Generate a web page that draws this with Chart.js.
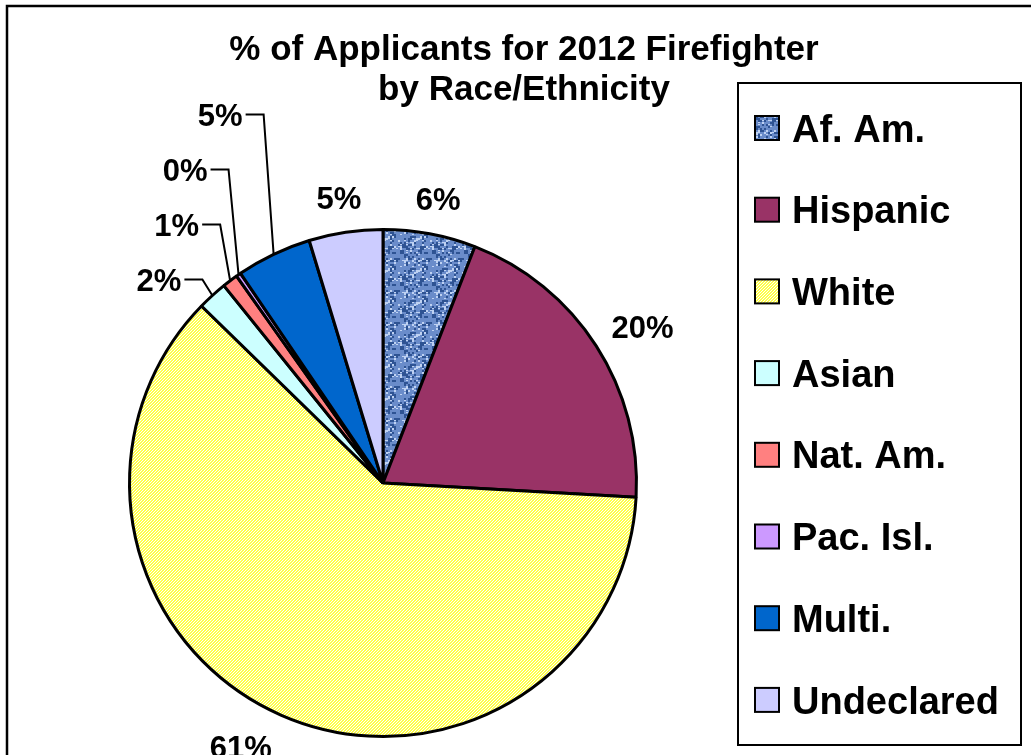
<!DOCTYPE html>
<html>
<head>
<meta charset="utf-8">
<title>% of Applicants for 2012 Firefighter by Race/Ethnicity</title>
<script src="https://cdn.jsdelivr.net/npm/chart.js@4.4.1/dist/chart.umd.min.js"></script>
<style>
  html, body { margin: 0; padding: 0; background: #fff; }
  #chart { display: block; }
</style>
</head>
<body>
<canvas id="chart" width="1031" height="755"></canvas>
<script>
const groups = ["Af. Am.", "Hispanic", "White", "Asian", "Nat. Am.", "Pac. Isl.", "Multi.", "Undeclared"];
const applicantShare = [5.9, 20.0, 61.4, 1.9, 1.0, 0.3, 4.8, 4.7];
const sliceColors = ["#6d8fcc", "#993366", "#ffff66", "#ccffff", "#ff8080", "#cc99ff", "#0066cc", "#ccccff"];
const titleLines = ["% of Applicants for 2012 Firefighter", "by Race/Ethnicity"];
// small slices get their labels stacked up-left with leader lines
const leaderSlices = [3, 4, 5, 6];

const FONT = "'Liberation Sans', Arial, sans-serif";

const canvas = document.getElementById("chart");
const ctx = canvas.getContext("2d");

// woven blue texture for Af. Am.
function denimPattern() {
  const c = document.createElement("canvas");
  c.width = c.height = 32;
  const g = c.getContext("2d");
  g.fillStyle = "#6a8cca";
  g.fillRect(0, 0, 32, 32);
  for (let y = 0; y < 16; y++) {
    for (let x = 0; x < 16; x++) {
      let h = Math.imul(x + 1, 374761393) + Math.imul(y + 7, 668265263);
      h = Math.imul(h ^ (h >>> 13), 1274126177);
      h = (h ^ (h >>> 16)) >>> 0;
      const v = h % 10;
      if (v < 3) {
        g.fillStyle = "#2e5393";
        g.fillRect(x * 2, y * 2, 2, 2);
      } else if (v > 7) {
        g.fillStyle = "#bfd2f2";
        g.fillRect(x * 2, y * 2, 2, 1 + (v & 1));
      }
    }
  }
  return ctx.createPattern(c, "repeat");
}

// fine yellow/white diagonal hatch for White
function hatchPattern() {
  const c = document.createElement("canvas");
  c.width = c.height = 3;
  const g = c.getContext("2d");
  g.fillStyle = "#ffff4a";
  g.fillRect(0, 0, 3, 3);
  g.fillStyle = "#ffffff";
  for (let i = 0; i < 3; i++) g.fillRect(i, 2 - i, 1, 1);
  return ctx.createPattern(c, "repeat");
}

const fills = sliceColors.slice();
fills[0] = denimPattern();
fills[2] = hatchPattern();

const decorations = {
  id: "decorations",
  beforeDraw(chart) {
    const c = chart.ctx;
    c.save();
    c.fillStyle = "#fff";
    c.fillRect(0, 0, chart.width, chart.height);
    c.restore();
  },
  afterDraw(chart) {
    const c = chart.ctx;
    const total = applicantShare.reduce((a, b) => a + b, 0);
    c.save();

    // outer frame
    c.strokeStyle = "#000";
    c.lineWidth = 2.5;
    c.strokeRect(7, 6, 1200, 1200);

    // title
    c.fillStyle = "#000";
    c.textAlign = "center";
    c.textBaseline = "alphabetic";
    c.font = "bold 35px " + FONT;
    c.fillText(titleLines[0], 524, 60);
    c.fillText(titleLines[1], 524, 100);

    // value labels
    const meta = chart.getDatasetMeta(0);
    c.font = "bold 31px " + FONT;
    const capH = 22;
    let stackY = null;
    meta.data.forEach((arc, i) => {
      const p = arc.getProps(["x", "y", "startAngle", "endAngle", "outerRadius"], true);
      const mid = (p.startAngle + p.endAngle) / 2;
      const dx = Math.cos(mid), dy = Math.sin(mid);
      const text = Math.round(applicantShare[i] / total * 100) + "%";
      const w = c.measureText(text).width;
      if (leaderSlices.includes(i)) {
        const ex = p.x + p.outerRadius * dx;
        const ey = p.y + p.outerRadius * dy;
        stackY = stackY === null ? ey - 16 : stackY - 55;
        c.textAlign = "right";
        c.fillText(text, ex - 31, stackY + capH / 2);
        c.beginPath();
        c.lineWidth = 2;
        c.moveTo(ex - 28, stackY);
        c.lineTo(ex - 10, stackY);
        c.lineTo(ex, ey);
        c.stroke();
      } else {
        // bottom label sits a little further round, the way the spreadsheet placed it
        const shift = dy > 0.8 ? -18 : 0;
        const r = p.outerRadius + 24;
        const cx = p.x + r * dx + dx * w / 2 + shift;
        const cy = p.y + r * dy + dy * capH / 2;
        c.textAlign = "center";
        c.fillText(text, cx, cy + capH / 2);
      }
    });

    // legend box
    c.lineWidth = 2;
    c.strokeStyle = "#000";
    c.strokeRect(738, 83, 283, 662);
    c.font = "bold 38px " + FONT;
    c.textAlign = "left";
    groups.forEach((name, i) => {
      const cy = 128 + i * 81.7;
      c.fillStyle = fills[i];
      c.fillRect(755, cy - 12, 24, 24);
      c.strokeRect(755, cy - 12, 24, 24);
      c.fillStyle = "#000";
      c.fillText(name, 792, cy + 13.6);
    });
    c.restore();
  }
};

new Chart(ctx, {
  type: "pie",
  data: {
    labels: groups,
    datasets: [{
      data: applicantShare,
      backgroundColor: fills,
      borderColor: "#000",
      borderWidth: 3
    }]
  },
  options: {
    responsive: false,
    devicePixelRatio: 1,
    animation: false,
    layout: { padding: { left: 128, right: 393, top: 228, bottom: 17 } },
    plugins: {
      legend: { display: false },
      title: { display: false },
      tooltip: { enabled: false }
    }
  },
  plugins: [decorations]
});
</script>
</body>
</html>
